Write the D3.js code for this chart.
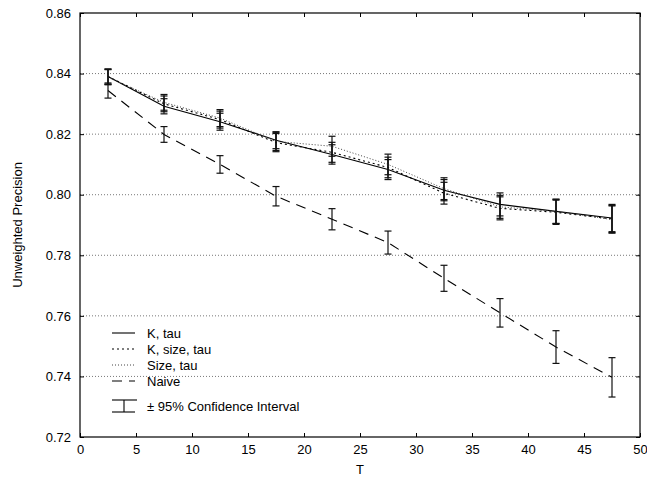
<!DOCTYPE html>
<html><head><meta charset="utf-8">
<script src="https://cdn.jsdelivr.net/npm/d3@7"></script>
<style>
body{margin:0;background:#fff;}
text{font-family:"Liberation Sans",Arial,Helvetica,sans-serif;}
</style></head>
<body><svg id="c" width="647" height="480"></svg>
<script>
const T = [2.5, 7.5, 12.5, 17.5, 22.5, 27.5, 32.5, 37.5, 42.5, 47.5];
const kTau      = [0.8390, 0.8292, 0.8241, 0.8180, 0.8133, 0.8083, 0.8015, 0.7968, 0.7945, 0.7923];
const kTauErr   = [0.0025, 0.0025, 0.0028, 0.0028, 0.0032, 0.0033, 0.0035, 0.0038, 0.0040, 0.0045];
const kSizeTau  = [0.8390, 0.8300, 0.8248, 0.8172, 0.8140, 0.8090, 0.8005, 0.7955, 0.7942, 0.7920];
const kSizeTauErr=[0.0025, 0.0026, 0.0028, 0.0030, 0.0033, 0.0034, 0.0036, 0.0038, 0.0040, 0.0045];
const sizeTau   = [0.8388, 0.8305, 0.8253, 0.8176, 0.8160, 0.8100, 0.8020, 0.7960, 0.7945, 0.7918];
const sizeTauErr= [0.0025, 0.0026, 0.0028, 0.0030, 0.0033, 0.0034, 0.0036, 0.0038, 0.0040, 0.0045];
const naive     = [0.8344, 0.8199, 0.8100, 0.7995, 0.7919, 0.7842, 0.7724, 0.7610, 0.7497, 0.7397];
const naiveErr  = [0.0025, 0.0026, 0.0029, 0.0032, 0.0035, 0.0038, 0.0043, 0.0047, 0.0054, 0.0065];
const xTicks = [0,5,10,15,20,25,30,35,40,45,50];
const yTicks = [0.72,0.74,0.76,0.78,0.80,0.82,0.84,0.86];
const seriesNames = ["K, tau","K, size, tau","Size, tau","Naive"];
const ciLabel = "\u00b1 95% Confidence Interval";

const svg = d3.select("#c");
const L=80, R=640, Tp=13, B=437;
const x = d3.scaleLinear().domain([0,50]).range([L,R]);
const y = d3.scaleLinear().domain([0.72,0.86]).range([B,Tp]);

// grid
svg.append("g").selectAll("line").data(yTicks.filter(v=>v>0.72+1e-9 && v<0.86-1e-9)).join("line")
  .attr("x1",L).attr("x2",R).attr("y1",d=>y(d)).attr("y2",d=>y(d))
  .attr("stroke","#555").attr("stroke-width",0.8).attr("stroke-dasharray","1,2");

// axes
const fmt = d3.format(".2f");
const gL = svg.append("g").attr("transform",`translate(${L},0)`)
  .call(d3.axisLeft(y).tickValues(yTicks).tickFormat(fmt).tickSizeInner(-4).tickSizeOuter(0).tickPadding(9));
const gR = svg.append("g").attr("transform",`translate(${R},0)`)
  .call(d3.axisRight(y).tickValues(yTicks).tickFormat("").tickSizeInner(-4).tickSizeOuter(0));
const gB = svg.append("g").attr("transform",`translate(0,${B})`)
  .call(d3.axisBottom(x).tickValues(xTicks).tickFormat(d3.format("d")).tickSizeInner(-4).tickSizeOuter(0).tickPadding(8));
const gT = svg.append("g").attr("transform",`translate(0,${Tp})`)
  .call(d3.axisTop(x).tickValues(xTicks).tickFormat("").tickSizeInner(-4).tickSizeOuter(0));
[gL,gR,gB,gT].forEach(g=>{
  g.select(".domain").remove();
  g.selectAll("line").attr("stroke","#000").attr("stroke-width",1);
  g.selectAll("text").attr("font-size",13).attr("fill","#000")
   .attr("font-family","'Liberation Sans',Arial,sans-serif");
});
svg.append("rect").attr("x",L).attr("y",Tp).attr("width",R-L).attr("height",B-Tp)
  .attr("fill","none").attr("stroke","#000").attr("stroke-width",1.2);

// axis titles
svg.append("text").attr("x",x(25)).attr("y",474).attr("text-anchor","middle")
  .attr("font-size",13).text("T");
svg.append("text").attr("transform",`translate(22,${(Tp+B)/2}) rotate(-90)`)
  .attr("text-anchor","middle").attr("font-size",13)
  .attr("font-family","'Liberation Sans Narrow','Liberation Sans',Arial,sans-serif")
  .attr("font-stretch","condensed").text("Unweighted Precision");

const series = [
  {name:seriesNames[0], v:kTau, e:kTauErr, dash:null, color:"#000", w:1.1},
  {name:seriesNames[1], v:kSizeTau, e:kSizeTauErr, dash:"2,3", color:"#000", w:1.1},
  {name:seriesNames[2], v:sizeTau, e:sizeTauErr, dash:"1,2", color:"#444", w:1},
  {name:seriesNames[3], v:naive, e:naiveErr, dash:"10,7", color:"#000", w:1.1},
];
const line = d3.line().x((d,i)=>x(T[i])).y(d=>y(d));
const cap = 3.5;
series.forEach(s=>{
  svg.append("path").datum(s.v).attr("d",line).attr("fill","none")
    .attr("stroke",s.color).attr("stroke-width",s.w)
    .attr("stroke-dasharray",s.dash);
  const g = svg.append("g").attr("stroke","#111").attr("stroke-width",1.2);
  s.v.forEach((v,i)=>{
    const cx=x(T[i]), y1=y(v+s.e[i]), y2=y(v-s.e[i]);
    g.append("line").attr("x1",cx).attr("x2",cx).attr("y1",y1).attr("y2",y2);
    g.append("line").attr("x1",cx-cap).attr("x2",cx+cap).attr("y1",y1).attr("y2",y1);
    g.append("line").attr("x1",cx-cap).attr("x2",cx+cap).attr("y1",y2).attr("y2",y2);
  });
});

// legend
const lg = svg.append("g");
const ly = [333,349,365,381];
series.forEach((s,i)=>{
  lg.append("line").attr("x1",112).attr("x2",135).attr("y1",ly[i]).attr("y2",ly[i])
    .attr("stroke",s.color).attr("stroke-width",s.w).attr("stroke-dasharray",s.dash);
  lg.append("text").attr("x",147).attr("y",ly[i]+4.5).attr("font-size",13).text(s.name);
});
const cy1=400, cy2=412;
lg.append("line").attr("x1",112).attr("x2",137).attr("y1",cy1).attr("y2",cy1).attr("stroke","#000").attr("stroke-width",1.1);
lg.append("line").attr("x1",112).attr("x2",135).attr("y1",cy2).attr("y2",cy2).attr("stroke","#000").attr("stroke-width",1.1);
lg.append("line").attr("x1",124).attr("x2",124).attr("y1",cy1).attr("y2",cy2).attr("stroke","#000").attr("stroke-width",1.1);
lg.append("text").attr("x",147).attr("y",411).attr("font-size",13).text(ciLabel);
</script></body></html>
